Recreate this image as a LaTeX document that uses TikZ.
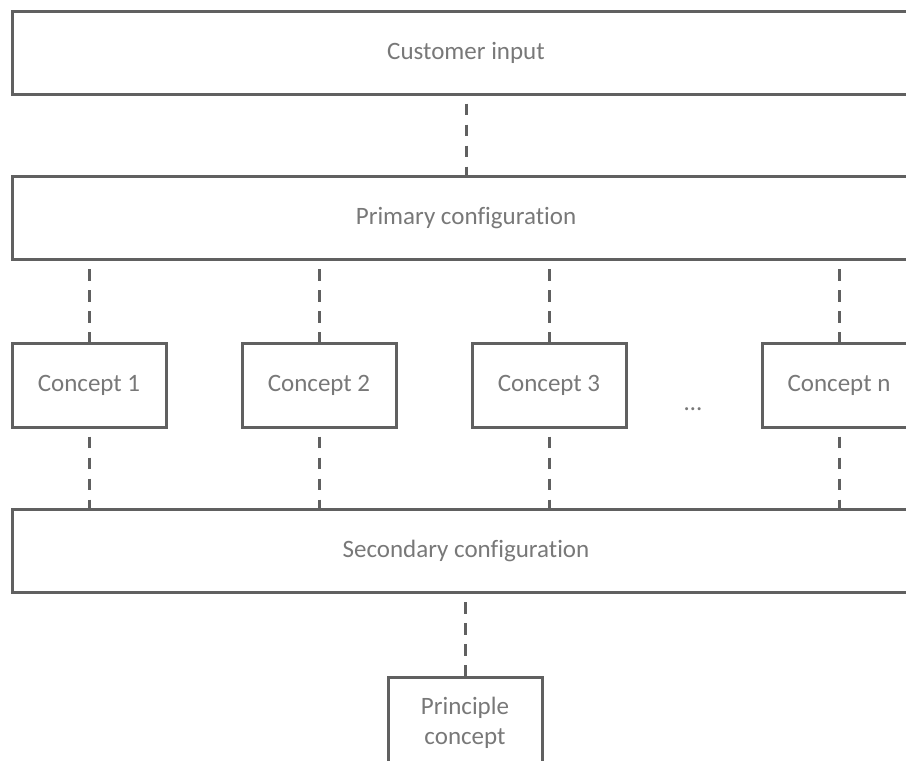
\documentclass[tikz,border=0pt]{standalone}
\usepackage{fontspec}
\setmainfont{Carlito}[Ligatures=NoCommon]
\usetikzlibrary{positioning}
\definecolor{linegray}{HTML}{606060}
\definecolor{textgray}{HTML}{787878}
\tikzset{
  box/.style={draw=linegray, line width=1.5pt, text=textgray, align=center, inner sep=0pt,
    font=\fontsize{12.5}{15}\selectfont},
  widebox/.style={box, minimum width=454pt, minimum height=41.5pt},
  conceptbox/.style={box, minimum width=77pt, minimum height=42pt},
  link/.style={draw=linegray, line width=1.5pt, dash pattern=on 5.75pt off 4.75pt, dash phase=6.5pt},
}

\begin{document}
\begin{tikzpicture}[x=0.5pt,y=-0.5pt]
  \useasboundingbox (0,0) rectangle (906,761);
  \clip (0,0) rectangle (906,761);
  % configuration bars
  \node[widebox] (cin) at (466,52.5) {Customer input};
  \node[widebox] (pcfg) at (466,218) {Primary configuration};
  \node[widebox] (scfg) at (466,551) {Secondary configuration};
  % concepts
  \foreach \i/\x/\t in {1/89/1, 2/319/2, 3/549/3, 4/839/n}
    \node[conceptbox] (c\i) at (\x,385) {Concept \t};
  \node[text=textgray, inner sep=0pt, font=\fontsize{12.5}{15}\selectfont] (dots) at (693,409) {\dots};
  \node[box, minimum width=77pt, minimum height=46pt] (pc) at (465,723) {Principle\\concept};
  % links
  \draw[link] (cin) -- (pcfg);
  \foreach \i in {1,...,4} {
    \draw[link] (c\i |- pcfg.south) -- (c\i);
    \draw[link] (c\i) -- (c\i |- scfg.north);
  }
  \draw[link] (pc |- scfg.south) -- (pc);
\end{tikzpicture}
\end{document}
